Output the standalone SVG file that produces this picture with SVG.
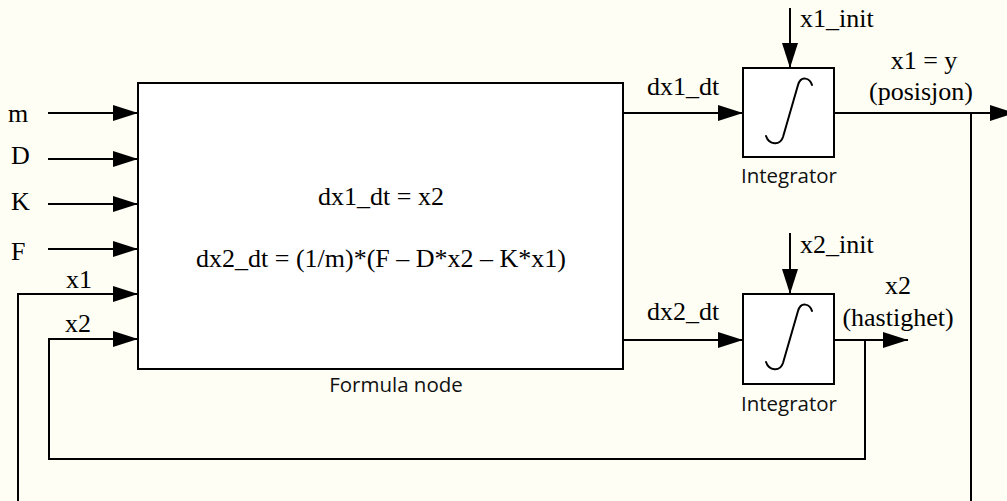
<svg xmlns="http://www.w3.org/2000/svg" width="1007" height="501" viewBox="0 0 1007 501">
<defs>
<marker id="arr" markerUnits="userSpaceOnUse" markerWidth="25" markerHeight="16" refX="25" refY="8" orient="auto" overflow="visible">
<path d="M0,0 L25,8 L0,16 z" fill="#000"/>
</marker>
<style>
.ser{font-family:"Liberation Serif","Times New Roman",serif;font-size:26px;fill:#000}
.sans{font-family:"Open Sans","Liberation Sans",sans-serif;font-size:20.5px;fill:#111}
.box{fill:#fff;stroke:#000;stroke-width:2}
.wire{fill:none;stroke:#000;stroke-width:2}
.arw{fill:none;stroke:#000;stroke-width:2;marker-end:url(#arr)}
.intg{fill:none;stroke:#000;stroke-width:2;stroke-linecap:round}
</style>
</defs>
<rect x="0" y="0" width="1007" height="501" fill="#fefef4"/>

<g id="connectors">
<path class="arw" d="M48,113 H138"/>
<path class="arw" d="M48,159 H138"/>
<path class="arw" d="M48,204 H138"/>
<path class="arw" d="M48,249 H138"/>
<path class="arw" d="M971,113 V520 H18 V294 H138"/>
<path class="arw" d="M865,340 V459 H49 V339 H138"/>
<path class="arw" d="M623,113 H743"/>
<path class="arw" d="M623,340 H743"/>
<path class="arw" d="M790,8 V68"/>
<path class="arw" d="M790,233 V294"/>
<path class="arw" d="M834,113 H1015"/>
<path class="arw" d="M834,340 H908"/>
</g>

<g id="inputs">
<text class="ser" x="8" y="122">m</text>
<text class="ser" x="11" y="164">D</text>
<text class="ser" x="11" y="210">K</text>
<text class="ser" x="11" y="260">F</text>
<text class="ser" x="66" y="288">x1</text>
<text class="ser" x="65" y="332">x2</text>
</g>

<g id="formula-node">
<rect class="box" x="138" y="83" width="485" height="286"/>
<text class="ser" x="381" y="205" text-anchor="middle">dx1_dt = x2</text>
<text class="ser" x="381" y="267" text-anchor="middle">dx2_dt = (1/m)*(F – D*x2 – K*x1)</text>
<text class="sans" x="396" y="392" text-anchor="middle">Formula node</text>
</g>

<g id="integrator1">
<rect class="box" x="743" y="68" width="91" height="89"/>
<path class="intg" d="M812,85 C810,78 801,75 798,85 L783,137 C780,146 769,145 766,136"/>
<text class="sans" x="789" y="183" text-anchor="middle">Integrator</text>
</g>

<g id="integrator2">
<rect class="box" x="743" y="294" width="91" height="90"/>
<path class="intg" d="M812,311 C810,304 801,301 798,311 L783,363 C780,372 769,371 766,362"/>
<text class="sans" x="789" y="411" text-anchor="middle">Integrator</text>
</g>

<g id="labels">
<text class="ser" x="647" y="95">dx1_dt</text>
<text class="ser" x="647" y="320">dx2_dt</text>
<text class="ser" x="800" y="27">x1_init</text>
<text class="ser" x="800" y="253">x2_init</text>
<text class="ser" x="924" y="69" text-anchor="middle">x1 = y</text>
<text class="ser" x="921" y="100" text-anchor="middle">(posisjon)</text>
<text class="ser" x="898" y="294" text-anchor="middle">x2</text>
<text class="ser" x="898" y="326" text-anchor="middle">(hastighet)</text>
</g>
</svg>
